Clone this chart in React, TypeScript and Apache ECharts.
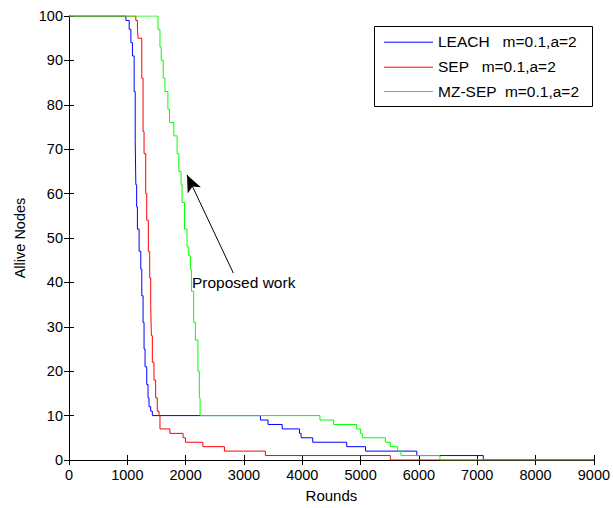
import React, { useEffect, useRef } from "react";
import * as echarts from "echarts";

const leachRounds = [0, 976, 1032, 1061, 1088, 1117, 1135, 1146, 1160, 1173, 1202, 1231, 1248, 1270, 1287, 1304, 1333, 1355, 1372, 1401, 1429, 3282, 3413, 3656, 3952, 3980, 4179, 4762, 5085, 5964, 7104, 9000];
const leachAlive = [100, 99, 97, 94, 91, 83, 72, 62, 57, 52, 47, 43, 37, 31, 25, 21, 17, 14, 12, 11, 10, 9, 8, 7, 6, 5, 4, 3, 2, 1, 0, 0];

const sepRounds = [0, 1146, 1173, 1185, 1248, 1270, 1287, 1316, 1333, 1360, 1384, 1401, 1412, 1429, 1457, 1486, 1514, 1543, 1560, 1730, 1956, 1997, 2296, 2665, 3367, 5510, 9000];
const sepAlive = [100, 99, 97, 95, 86, 74, 69, 60, 54, 47, 41, 35, 28, 22, 18, 14, 11, 10, 7, 6, 5, 4, 3, 2, 1, 0, 0];

const mzRounds = [0, 1526, 1560, 1582, 1616, 1645, 1696, 1724, 1798, 1854, 1883, 1922, 1939, 1980, 2024, 2053, 2082, 2099, 2138, 2167, 2211, 2235, 2248, 4303, 4536, 4932, 5000, 5029, 5425, 5510, 5636, 5692, 6361, 9000];
const mzAlive = [100, 97, 93, 90, 86, 83, 79, 76, 73, 69, 65, 62, 58, 52, 48, 46, 43, 38, 31, 27, 20, 14, 10, 9, 8, 7, 6, 5, 4, 3, 2, 1, 0, 0];

const seriesNames = ["LEACH   m=0.1,a=2", "SEP   m=0.1,a=2", "MZ-SEP  m=0.1,a=2"];
const seriesColors = ["#0000ff", "#ff0000", "#00ff00"];

const arrowTail = [2818, 42.1];
const arrowTip = [2024, 64.2];
const annotationPos = [2109, 40];
const annotationText = "Proposed work";

const FONT = 'Arial, "Liberation Sans", sans-serif';

function zip(xs: number[], ys: number[]) {
  return xs.map((x, i) => [x, ys[i]]);
}

export default function App() {
  const ref = useRef<HTMLDivElement>(null);
  useEffect(() => {
    if (!ref.current) return;
    const chart = echarts.init(ref.current, null, { renderer: "svg" });
    const axisCommon = {
      axisLine: { show: true, lineStyle: { color: "#000", width: 1 } },
      axisTick: { show: true, inside: true, length: 5, lineStyle: { color: "#000" } },
      splitLine: { show: false },
    };
    const mkLine = (i: number, data: number[][], extra: any = {}) => ({
      type: "line",
      name: seriesNames[i],
      data,
      step: "end",
      showSymbol: false,
      symbol: "none",
      lineStyle: { color: seriesColors[i], width: 1 },
      itemStyle: { color: seriesColors[i] },
      ...extra,
    });
    const legendBox = { x: 374, y: 26, w: 218, h: 80 };
    const legendRows = [41.7, 66.7, 91];
    const legendGraphics: any[] = [
      {
        type: "rect",
        shape: { x: legendBox.x + 0.5, y: legendBox.y + 0.5, width: legendBox.w, height: legendBox.h },
        style: { fill: "#fff", stroke: "#000", lineWidth: 1 },
        z: 100,
      },
    ];
    seriesNames.forEach((n, i) => {
      legendGraphics.push({
        type: "line",
        shape: { x1: 384, y1: legendRows[i] + 0.5, x2: 433, y2: legendRows[i] + 0.5 },
        style: { stroke: seriesColors[i], lineWidth: 1 },
        z: 101,
      });
      legendGraphics.push({
        type: "text",
        x: 438,
        y: legendRows[i],
        style: {
          text: n,
          fill: "#000",
          font: `15.5px ${FONT}`,
          verticalAlign: "middle",
          align: "left",
        },
        z: 101,
      });
    });
    chart.setOption({
      animation: false,
      backgroundColor: "#fff",
      textStyle: { fontFamily: FONT },
      grid: { left: 69, right: 15, top: 16, bottom: 45 },
      xAxis: [
        {
          type: "value",
          min: 0,
          max: 9000,
          interval: 1000,
          name: "Rounds",
          nameLocation: "middle",
          nameGap: 28,
          nameTextStyle: { fontSize: 15, color: "#000", fontFamily: FONT },
          axisLabel: {
            fontSize: 14.5,
            color: "#000",
            margin: 7,
            fontFamily: FONT,
            formatter: (v: number) => String(v),
          },
          ...axisCommon,
        },
        {
          type: "value",
          position: "top",
          min: 0,
          max: 9000,
          interval: 1000,
          axisLabel: { show: false },
          ...axisCommon,
        },
      ],
      yAxis: [
        {
          type: "value",
          min: 0,
          max: 100,
          interval: 10,
          name: "Allive Nodes",
          nameLocation: "middle",
          nameGap: 42,
          nameTextStyle: { fontSize: 14.5, color: "#000", fontFamily: FONT },
          axisLabel: {
            fontSize: 14.5,
            color: "#000",
            margin: 6,
            fontFamily: FONT,
            formatter: (v: number) => String(v),
          },
          ...axisCommon,
        },
        {
          type: "value",
          position: "right",
          min: 0,
          max: 100,
          interval: 10,
          axisLabel: { show: false },
          ...axisCommon,
        },
      ],
      graphic: legendGraphics,
      series: [
        mkLine(0, zip(leachRounds, leachAlive)),
        mkLine(1, zip(sepRounds, sepAlive)),
        mkLine(2, zip(mzRounds, mzAlive), {
          markLine: {
            silent: true,
            symbol: ["none", "arrow"],
            symbolSize: [11, 17],
            lineStyle: { color: "#000", width: 1, type: "solid" },
            itemStyle: { color: "#000" },
            label: { show: false },
            data: [[{ coord: arrowTail }, { coord: arrowTip }]],
          },
          markPoint: {
            silent: true,
            symbol: "circle",
            symbolSize: 0,
            data: [{ coord: annotationPos }],
            label: {
              show: true,
              position: "right",
              distance: 0,
              formatter: annotationText,
              fontSize: 15.5,
              color: "#000",
              fontFamily: FONT,
            },
          },
        }),
      ],
    });
    return () => chart.dispose();
  }, []);
  return (
    <div
      ref={ref}
      style={{ position: "fixed", left: 0, top: 0, width: 613, height: 508, background: "#fff" }}
    />
  );
}
